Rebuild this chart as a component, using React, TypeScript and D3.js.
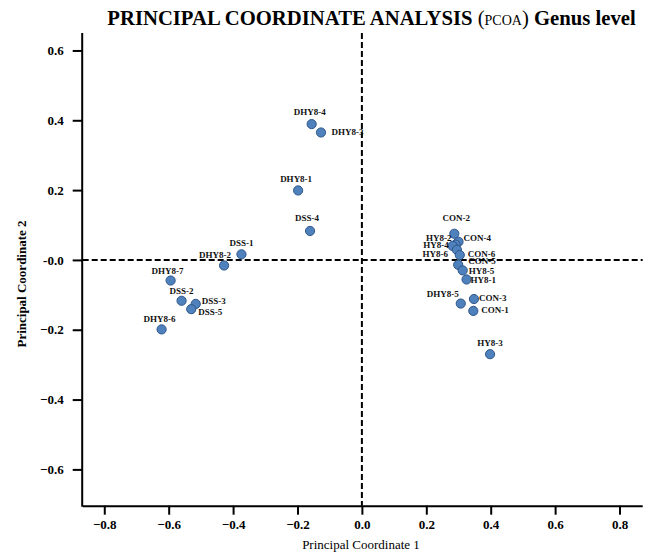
import { useEffect, useRef } from "react";
import * as d3 from "d3";

// sample names and their PCoA coordinates
const samples = [
  "DHY8-4", "DHY8-3", "DHY8-1", "DSS-4", "DSS-1", "DHY8-2", "DHY8-7", "DSS-2",
  "DSS-3", "DSS-5", "DHY8-6", "CON-2", "CON-4", "HY8-2", "HY8-4", "HY8-6",
  "CON-6", "CON-5", "HY8-5", "HY8-1", "DHY8-5", "CON-3", "CON-1", "HY8-3",
];
const pc1 = [
  -0.156, -0.127, -0.198, -0.161, -0.374, -0.428, -0.594, -0.56,
  -0.516, -0.53, -0.622, 0.287, 0.3, 0.291, 0.282, 0.295,
  0.304, 0.299, 0.313, 0.325, 0.307, 0.348, 0.346, 0.398,
];
const pc2 = [
  0.389, 0.365, 0.199, 0.083, 0.016, -0.016, -0.059, -0.117,
  -0.126, -0.141, -0.199, 0.075, 0.052, 0.044, 0.04, 0.029,
  0.014, -0.014, -0.03, -0.056, -0.125, -0.112, -0.146, -0.27,
];
const xTicks = [-0.8, -0.6, -0.4, -0.2, 0, 0.2, 0.4, 0.6, 0.8];
const yTicks = [0.6, 0.4, 0.2, 0, -0.2, -0.4, -0.6];

// where each label sits relative to its point
const labelPos: Record<string, [number, number, string]> = {
  "DHY8-4": [-2, -9, "middle"],
  "DHY8-3": [10.5, 3, "start"],
  "DHY8-1": [-2, -8, "middle"],
  "DSS-4": [-3, -9.5, "middle"],
  "DSS-1": [0, -8, "middle"],
  "DHY8-2": [-9, -8, "middle"],
  "DHY8-7": [-3, -7, "middle"],
  "DSS-2": [0, -6.5, "middle"],
  "DSS-3": [6, 0, "start"],
  "DSS-5": [7, 6, "start"],
  "DHY8-6": [-2, -7.5, "middle"],
  "CON-2": [2, -12.5, "middle"],
  "CON-4": [5, -1, "start"],
  "HY8-2": [-4, -4, "end"],
  "HY8-4": [-4, 2, "end"],
  "HY8-6": [-9, 7, "end"],
  "CON-6": [8, 2, "start"],
  "CON-5": [10, -1, "start"],
  "HY8-5": [6, 4, "start"],
  "HY8-1": [4, 4, "start"],
  "DHY8-5": [-2, -7, "end"],
  "CON-3": [5, 2, "start"],
  "CON-1": [8, 2, "start"],
  "HY8-3": [0, -8, "middle"],
};

const W = 654;
const H = 552;
const serif = "'Liberation Serif', 'Times New Roman', serif";

const App = () => {
  const svgRef = useRef<SVGSVGElement>(null);

  useEffect(() => {
    const svg = d3.select(svgRef.current);
    svg.selectAll("*").remove();

    const left = 82.7, right = 642.7, top = 33, bottom = 505.7;

    const x = d3.scaleLinear().domain([-0.867, 0.872]).range([left, right]);
    const y = d3.scaleLinear().domain([-0.704, 0.65]).range([bottom, top]);

    // title
    const title = svg
      .append("text")
      .attr("x", 371.5)
      .attr("y", 25)
      .attr("text-anchor", "middle")
      .attr("font-family", serif)
      .attr("font-size", 20.7)
      .attr("fill", "#000");
    title.append("tspan").attr("font-weight", "bold").text("PRINCIPAL COORDINATE ANALYSIS ");
    title.append("tspan").text("(");
    title.append("tspan").attr("font-size", 14).text("PCOA");
    title.append("tspan").text(")");
    title.append("tspan").attr("font-weight", "bold").text(" Genus level");

    // axes
    const xAxis = svg
      .append("g")
      .attr("transform", `translate(0,${bottom})`)
      .call(
        d3
          .axisBottom(x)
          .tickValues(xTicks)
          .tickSize(9)
          .tickSizeOuter(0)
          .tickFormat((d) => d3.format(".1f")(d as number))
      );
    xAxis.select(".domain").attr("stroke-width", 2).attr("d", `M${left},0.5H${right}`);
    xAxis.selectAll(".tick line").attr("stroke-width", 2);
    xAxis
      .selectAll(".tick text")
      .attr("font-family", serif)
      .attr("font-size", 13)
      .attr("font-weight", "bold")
      .attr("y", 8)
      .attr("dy", "1.15em");

    const yAxis = svg
      .append("g")
      .attr("transform", `translate(${left},0)`)
      .call(
        d3
          .axisLeft(y)
          .tickValues(yTicks)
          .tickSize(10)
          .tickSizeOuter(0)
          .tickFormat((d) => ((d as number) === 0 ? "-0.0" : d3.format(".1f")(d as number)))
      );
    yAxis.select(".domain").attr("stroke-width", 2).attr("d", `M-0.5,${top}V${bottom + 1}`);
    yAxis.selectAll(".tick line").attr("stroke-width", 2);
    yAxis
      .selectAll(".tick text")
      .attr("font-family", serif)
      .attr("font-size", 13)
      .attr("font-weight", "bold")
      .attr("x", -19);

    // zero reference lines
    svg
      .append("line")
      .attr("x1", left)
      .attr("x2", right)
      .attr("y1", y(0))
      .attr("y2", y(0))
      .attr("stroke", "#000")
      .attr("stroke-width", 2)
      .attr("stroke-dasharray", "6,3");
    svg
      .append("line")
      .attr("x1", x(0))
      .attr("x2", x(0))
      .attr("y1", top)
      .attr("y2", bottom)
      .attr("stroke", "#000")
      .attr("stroke-width", 2)
      .attr("stroke-dasharray", "6,3");

    // axis titles
    svg
      .append("text")
      .attr("x", 361)
      .attr("y", 549)
      .attr("text-anchor", "middle")
      .attr("font-family", serif)
      .attr("font-size", 13)
      .text("Principal Coordinate 1");
    svg
      .append("text")
      .attr("transform", "translate(26,284) rotate(-90)")
      .attr("text-anchor", "middle")
      .attr("font-family", serif)
      .attr("font-size", 13)
      .attr("font-weight", "bold")
      .text("Principal Coordinate 2");

    const data = samples.map((name, i) => ({ name, px: pc1[i], py: pc2[i] }));

    svg
      .append("g")
      .selectAll("circle")
      .data(data)
      .enter()
      .append("circle")
      .attr("cx", (d) => x(d.px))
      .attr("cy", (d) => y(d.py))
      .attr("r", 4.6)
      .attr("fill", "#4f81bd")
      .attr("stroke", "#2f5689")
      .attr("stroke-width", 1);

    svg
      .append("g")
      .selectAll("text")
      .data(data)
      .enter()
      .append("text")
      .attr("x", (d) => x(d.px) + labelPos[d.name][0])
      .attr("y", (d) => y(d.py) + labelPos[d.name][1])
      .attr("text-anchor", (d) => labelPos[d.name][2])
      .attr("font-family", serif)
      .attr("font-size", 9)
      .attr("font-weight", "bold")
      .attr("fill", "#111")
      .text((d) => d.name);
  }, []);

  return (
    <svg
      ref={svgRef}
      width={W}
      height={H}
      style={{ position: "absolute", left: 0, top: 0, background: "#fff" }}
    ></svg>
  );
};

export default App;
